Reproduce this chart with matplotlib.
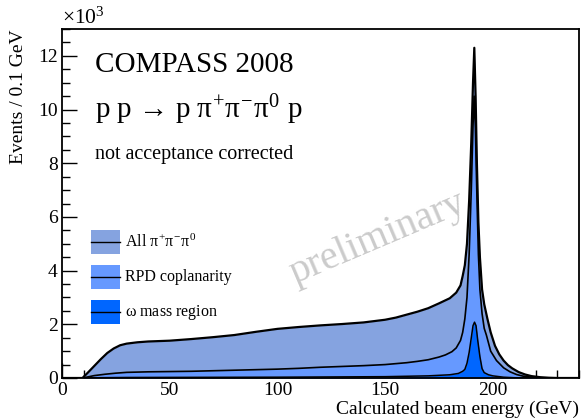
import matplotlib
matplotlib.use("Agg")
import matplotlib.pyplot as plt
from matplotlib.patches import Rectangle
from matplotlib.lines import Line2D
from matplotlib.ticker import MultipleLocator

plt.rcParams['font.family'] = ['Liberation Serif', 'DejaVu Serif']
plt.rcParams['mathtext.fontset'] = 'custom'
plt.rcParams['mathtext.rm'] = 'Liberation Serif'
plt.rcParams['mathtext.it'] = 'Liberation Serif'
plt.rcParams['mathtext.bf'] = 'Liberation Serif:bold'

# ---- data (units: GeV and 10^3 events / 0.1 GeV)
all_x = [0, 9.5, 12, 15, 18, 21, 24, 27, 30, 35, 40, 50, 60, 70, 80, 90, 100, 110,
         120, 130, 140, 150, 155, 160, 165, 170, 175, 180, 183, 185, 186, 187, 188,
         189, 190, 190.8, 191.4, 192.0, 192.6, 193.3, 194, 195, 196, 197.5, 199,
         201, 203, 205, 207, 209, 212, 215, 218, 222, 226, 230, 240]
all_y = [0, 0, 0.2, 0.45, 0.7, 0.93, 1.1, 1.22, 1.28, 1.33, 1.36, 1.39, 1.45, 1.52,
         1.6, 1.72, 1.83, 1.9, 1.96, 2.01, 2.07, 2.17, 2.25, 2.36, 2.47, 2.6, 2.78,
         2.97, 3.18, 3.45, 3.8, 4.2, 5.0, 6.6, 8.8, 11.0, 12.3, 10.5, 8.0, 5.8, 4.5,
         3.3, 2.75, 2.2, 1.7, 1.2, 0.88, 0.65, 0.48, 0.36, 0.22, 0.13, 0.07, 0.03,
         0.01, 0, 0]

rpd_x = [0, 9.5, 12, 15, 20, 25, 30, 40, 50, 60, 70, 80, 90, 100, 110, 120, 130,
         140, 150, 160, 165, 170, 175, 178, 181, 183, 185, 186, 187, 188, 189, 190,
         190.8, 191.3, 191.9, 192.6, 193.3, 194, 195, 196, 197, 199, 201.7, 205,
         208, 211, 214, 218, 222, 240]
rpd_y = [0, 0, 0.04, 0.09, 0.14, 0.18, 0.21, 0.23, 0.24, 0.25, 0.27, 0.29, 0.31,
         0.33, 0.36, 0.4, 0.43, 0.46, 0.5, 0.57, 0.62, 0.68, 0.78, 0.86, 0.98, 1.12,
         1.4, 1.7, 2.2, 3.0, 4.6, 7.0, 9.4, 10.5, 9.3, 6.8, 4.6, 3.3, 2.4, 1.85,
         1.6, 1.0, 0.65, 0.38, 0.23, 0.13, 0.07, 0.03, 0, 0]

omega_x = [0, 10, 15, 30, 100, 150, 170, 180, 184, 186, 187, 188, 189, 190, 190.8,
           191.5, 192.2, 193, 194, 195, 196, 198, 200, 205, 210, 215, 240]
omega_y = [0, 0, 0.01, 0.02, 0.03, 0.05, 0.08, 0.12, 0.17, 0.25, 0.32, 0.55, 0.95,
           1.5, 1.95, 2.08, 1.95, 1.4, 0.8, 0.35, 0.2, 0.12, 0.08, 0.03, 0.01, 0, 0]

labels = ['All $\\pi^{+}\\pi^{-}\\pi^{0}$', 'RPD coplanarity', '$\\omega$ mass region']
colors = ['#85a3e0', '#6699ff', '#0066ff']

W, H = 584, 418
fig = plt.figure(figsize=(W / 100, H / 100), dpi=100)
ax = fig.add_axes([62 / W, (H - 378) / H, (579 - 62) / W, (378 - 29) / H])
ax.set_axisbelow(True)

series = [(all_x, all_y, 1.6), (rpd_x, rpd_y, 1.2), (omega_x, omega_y, 1.1)]
for (xs, ys, lw), c in zip(series, colors):
    ax.fill_between(xs, 0, ys, color=c, lw=0)
    ax.plot(xs, ys, color='black', lw=lw)

ax.set_xlim(0, 240)
ax.set_ylim(0, 13)
ax.xaxis.set_major_locator(MultipleLocator(50))
ax.xaxis.set_minor_locator(MultipleLocator(10))
ax.yaxis.set_major_locator(MultipleLocator(2))
ax.yaxis.set_minor_locator(MultipleLocator(0.5))
ax.tick_params(which='both', direction='in', top=False, right=False,
               labelsize=14, width=1, color='black', pad=3)
ax.tick_params(which='major', length=11)
ax.tick_params(which='minor', length=6)
for s in ax.spines.values():
    s.set_linewidth(1.3)
    s.set_zorder(5)

ax.set_ylabel('Events / 0.1 GeV', fontsize=14, loc='top', labelpad=8)
ax.set_xlabel('Calculated beam energy (GeV)', fontsize=14, loc='right', labelpad=1)

def fx(px):
    return px / W

def fy(py):
    return 1 - py / H

fig.text(fx(62), fy(18), '$\\times10^{3}$', fontsize=15.5, va='center', ha='left')
fig.text(fx(95), fy(65), 'COMPASS 2008', fontsize=21, va='center', ha='left')
fig.text(fx(95), fy(110), 'p p \u2192 p $\\pi^{+}\\pi^{-}\\pi^{0}$ p',
         fontsize=21, va='center', ha='left')
fig.text(fx(95), fy(154), 'not acceptance corrected', fontsize=14.5,
         va='center', ha='left')
fig.text(fx(378), fy(238), 'preliminary', fontsize=29, color='#cbcbcb',
         rotation=23, ha='center', va='center', rotation_mode='anchor')

# legend
rows = [(230, 254), (265, 289), (300, 324)]
for (y0, y1), c, lab in zip(rows, colors, labels):
    fig.patches.append(Rectangle((fx(91), fy(y1)), fx(120) - fx(91), fy(y0) - fy(y1),
                                 transform=fig.transFigure, facecolor=c, lw=0))
    ym = (y0 + y1) / 2
    fig.lines.append(Line2D([fx(91), fx(120)], [fy(ym), fy(ym)],
                            transform=fig.transFigure, color='black', lw=1))
    fig.text(fx(125), fy(ym), lab, fontsize=11.5, va='center', ha='left')

fig.savefig('out.png', dpi=100)
